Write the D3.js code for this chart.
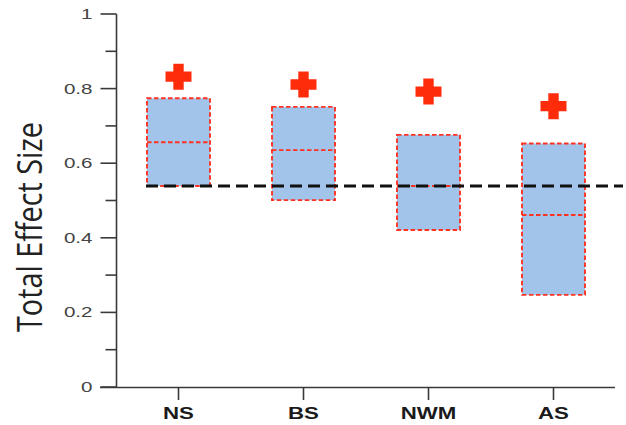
<!DOCTYPE html>
<html>
<head>
<meta charset="utf-8">
<script src="https://cdn.jsdelivr.net/npm/d3@7"></script>
<style>
  html, body { margin: 0; padding: 0; background: #fff; }
  svg { display: block; }
</style>
</head>
<body>
<svg id="chart" width="626" height="425"></svg>
<script>
// Groups on the x axis
const categories = ["NS", "BS", "NWM", "AS"];
// Box extents (low, middle line, high) of the total effect size per group
const boxLow  = [0.539, 0.501, 0.421, 0.247];
const boxMid  = [0.656, 0.635, 0.539, 0.461];
const boxHigh = [0.774, 0.751, 0.676, 0.653];
// Point estimate shown by the red cross above each box
const markValue = [0.832, 0.811, 0.792, 0.753];
// Reference level drawn as the dashed horizontal line
const referenceLevel = 0.539;
// Axis ticks
const yMajorTicks = [0, 0.2, 0.4, 0.6, 0.8, 1];
const yMinorTicks = [0.1, 0.3, 0.5, 0.7, 0.9];
const yTitle = "Total Effect Size";

const svg = d3.select("#chart");
const axisColor = "#3a3a3a";

const y = d3.scaleLinear().domain([0, 1]).range([387, 14]);
const x = d3.scaleBand().domain(categories).range([116, 616]);
const boxW = 63;

const rows = categories.map((c, i) => ({ c, lo: boxLow[i], mid: boxMid[i], hi: boxHigh[i], mark: markValue[i] }));

// Boxes
svg.append("g").selectAll("rect").data(rows).join("rect")
  .attr("x", d => x(d.c) + x.bandwidth() / 2 - boxW / 2)
  .attr("y", d => y(d.hi))
  .attr("width", boxW)
  .attr("height", d => y(d.lo) - y(d.hi))
  .attr("fill", "#a2c3ea")
  .attr("stroke", "#ff3322")
  .attr("stroke-width", 1.9)
  .attr("stroke-dasharray", "4.5,2.5");

svg.append("g").selectAll("line").data(rows).join("line")
  .attr("x1", d => x(d.c) + x.bandwidth() / 2 - boxW / 2)
  .attr("x2", d => x(d.c) + x.bandwidth() / 2 + boxW / 2)
  .attr("y1", d => y(d.mid))
  .attr("y2", d => y(d.mid))
  .attr("stroke", "#ff3322")
  .attr("stroke-width", 1.9)
  .attr("stroke-dasharray", "4.5,2.5");

// Dashed reference line
svg.append("line")
  .attr("x1", 146).attr("x2", 623)
  .attr("y1", y(referenceLevel)).attr("y2", y(referenceLevel))
  .attr("stroke", "#111")
  .attr("stroke-width", 3)
  .attr("stroke-dasharray", "12,6");

// Red crosses: thick-armed plus symbol
const plusSymbol = {
  draw(ctx, size) {
    const w = Math.sqrt(size);      // overall width
    const h = w / 2, a = w * 0.2;   // half width, half arm thickness
    ctx.moveTo(-a, -h); ctx.lineTo(a, -h); ctx.lineTo(a, -a); ctx.lineTo(h, -a);
    ctx.lineTo(h, a); ctx.lineTo(a, a); ctx.lineTo(a, h); ctx.lineTo(-a, h);
    ctx.lineTo(-a, a); ctx.lineTo(-h, a); ctx.lineTo(-h, -a); ctx.lineTo(-a, -a);
    ctx.closePath();
  }
};
const cross = d3.symbol().type(plusSymbol).size(26 * 26);
svg.append("g").selectAll("path").data(rows).join("path")
  .attr("transform", d => `translate(${x(d.c) + x.bandwidth() / 2},${y(d.mark)})`)
  .attr("d", cross)
  .attr("fill", "#ff2c0c");

// Y axis
const yAxisG = svg.append("g").attr("transform", "translate(116.5,0)");
yAxisG.append("line")
  .attr("y1", y(1)).attr("y2", y(0) + 0.5)
  .attr("stroke", axisColor).attr("stroke-width", 1.6);
yAxisG.selectAll("line.major").data(yMajorTicks).join("line")
  .attr("class", "major")
  .attr("x1", -16).attr("x2", 0)
  .attr("y1", d => y(d)).attr("y2", d => y(d))
  .attr("stroke", axisColor).attr("stroke-width", 1.6);
yAxisG.selectAll("line.minor").data(yMinorTicks).join("line")
  .attr("class", "minor")
  .attr("x1", -11).attr("x2", 0)
  .attr("y1", d => y(d)).attr("y2", d => y(d))
  .attr("stroke", axisColor).attr("stroke-width", 1.6);
yAxisG.selectAll("text").data(yMajorTicks).join("text")
  .attr("transform", d => `translate(-24,${y(d) + 5}) scale(1.42,1)`)
  .attr("text-anchor", "end")
  .attr("font-family", "Liberation Sans, Arial, sans-serif")
  .attr("font-size", 14.5)
  .attr("fill", "#444")
  .text(d => d === 0 ? "0" : d === 1 ? "1" : d3.format(".1f")(d));

// X axis
svg.append("line")
  .attr("x1", 100).attr("x2", 615)
  .attr("y1", y(0) + 0.5).attr("y2", y(0) + 0.5)
  .attr("stroke", axisColor).attr("stroke-width", 1.6);
const xAxisG = svg.append("g");
xAxisG.selectAll("line").data(categories).join("line")
  .attr("x1", d => x(d) + x.bandwidth() / 2)
  .attr("x2", d => x(d) + x.bandwidth() / 2)
  .attr("y1", y(0)).attr("y2", y(0) + 13)
  .attr("stroke", axisColor).attr("stroke-width", 1.6);
xAxisG.selectAll("text").data(categories).join("text")
  .attr("transform", d => `translate(${x(d) + x.bandwidth() / 2},419) scale(1.35,1)`)
  .attr("text-anchor", "middle")
  .attr("font-family", "Liberation Sans, Arial, sans-serif")
  .attr("font-weight", "bold")
  .attr("font-size", 16.5)
  .attr("fill", "#1a1a1a")
  .text(d => d);

// Y title
svg.append("text")
  .attr("transform", "translate(42,227) scale(1.4,1) rotate(-90)")
  .attr("text-anchor", "middle")
  .attr("font-family", "Open Sans, sans-serif")
  .attr("font-size", 25)
  .attr("textLength", 210)
  .attr("lengthAdjust", "spacingAndGlyphs")
  .attr("fill", "#222")
  .text(yTitle);
</script>
</body>
</html>
